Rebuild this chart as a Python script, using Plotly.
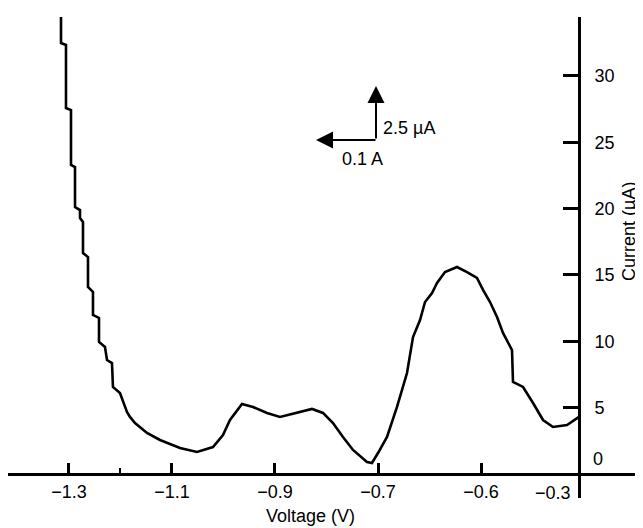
import plotly.graph_objects as go

# ---- data ----
voltage = [-1.3155, -1.3155, -1.3058, -1.3058, -1.2961, -1.2961, -1.2883, -1.2883,
           -1.2786, -1.2786, -1.2728, -1.2728, -1.2631, -1.2631, -1.2534, -1.2534,
           -1.2417, -1.2417, -1.2301, -1.2262, -1.2165, -1.2146, -1.2010, -1.1874,
           -1.1816, -1.1718, -1.1485, -1.1233, -1.0845, -1.0515, -1.0204, -1.0010,
           -0.9874, -0.9738, -0.9641, -0.9427, -0.9155, -0.8903, -0.8573, -0.8282,
           -0.8068, -0.7874, -0.7680, -0.7485, -0.7214, -0.7117, -0.7000, -0.6825,
           -0.6631, -0.6437, -0.6320, -0.6184, -0.6087, -0.5951, -0.5854, -0.5699,
           -0.5466, -0.5272, -0.5078, -0.4961, -0.4825, -0.4689, -0.4573, -0.4398,
           -0.4379, -0.4184, -0.3990, -0.3796, -0.3602, -0.3330, -0.3097]
current = [34.51, 32.48, 32.33, 27.58, 27.43, 23.29, 23.13, 20.12,
           19.89, 19.29, 18.99, 16.65, 16.35, 14.09, 13.72, 11.98,
           11.76, 9.95, 9.57, 8.59, 8.36, 6.56, 6.10, 4.67,
           4.30, 3.84, 3.09, 2.56, 1.96, 1.66, 2.03, 2.94,
           4.07, 4.82, 5.28, 5.05, 4.60, 4.30, 4.60, 4.90,
           4.60, 3.84, 2.79, 1.81, 0.90, 0.83, 1.58, 2.79,
           5.05, 7.61, 10.32, 11.60, 12.96, 13.64, 14.39, 15.22,
           15.60, 15.22, 14.77, 13.87, 12.96, 11.83, 10.63, 9.34,
           6.93, 6.56, 5.35, 4.07, 3.54, 3.69, 4.30]

x_tickvals = [-1.3, -1.1, -0.9, -0.7, -0.5]
x_ticktext = ["\u22121.3", "\u22121.1", "\u22120.9", "\u22120.7", "\u22120.6"]
x_minor_ticks = [-1.2]
y_axis_voltage = -0.31
y_axis_label = "\u22120.3"
y_tickvals = [5, 10, 15, 20, 25, 30]
y_ticktext = ["5", "10", "15", "20", "25", "30"]

x_range = [-1.4184, -0.1913]
y_range = [-1.81, 34.44]

# ---- layout helpers (page has an 8px body margin) ----
OFF = 8
W, H = 643 - OFF, 528 - OFF
ML, MR, MT, MB = 0, 3, 17 - OFF, 30
PW, PH = W - ML - MR, H - MT - MB

def px(xp):  # screen x (reference pixels) -> paper fraction
    return (xp - OFF - ML) / PW

def py(yp):  # screen y (reference pixels) -> paper fraction
    return (H - MB - (yp - OFF)) / PH

FONT = "Liberation Sans, Arial, sans-serif"
FS = 18

fig = go.Figure()
fig.add_trace(go.Scatter(x=voltage, y=current, mode="lines",
                         line=dict(color="black", width=2.6),
                         hoverinfo="skip", showlegend=False))

xpos = (0 - y_range[0]) / (y_range[1] - y_range[0])
ypos = (y_axis_voltage - x_range[0]) / (x_range[1] - x_range[0])

fig.update_layout(
    width=W, height=H,
    margin=dict(l=ML, r=MR, t=MT, b=MB),
    paper_bgcolor="white", plot_bgcolor="white",
    font=dict(family=FONT, size=FS, color="black"),
    xaxis=dict(range=x_range, anchor="free", position=xpos,
               showline=True, linecolor="black", linewidth=3,
               tickmode="array", tickvals=x_tickvals, ticktext=x_ticktext,
               ticks="inside", ticklen=10, tickwidth=3, tickcolor="black",
               minor=dict(tickmode="array", tickvals=x_minor_ticks, ticks="inside",
                          ticklen=5, tickwidth=2, tickcolor="black", showgrid=False),
               showgrid=False, zeroline=False,
               tickfont=dict(family=FONT, size=FS, color="black")),
    yaxis=dict(range=y_range, anchor="free", position=ypos, side="right",
               showline=True, linecolor="black", linewidth=3,
               tickmode="array", tickvals=y_tickvals, ticktext=y_ticktext,
               ticks="inside", ticklen=15, tickwidth=3, tickcolor="black",
               ticklabelstandoff=10,
               showgrid=False, zeroline=False,
               tickfont=dict(family=FONT, size=FS, color="black")),
)

def text_ann(text, x, y, xanchor="center", angle=0):
    return dict(text=text, x=px(x), y=py(y), xref="paper", yref="paper",
                showarrow=False, xanchor=xanchor, yanchor="middle", textangle=angle,
                font=dict(family=FONT, size=FS, color="black"))

ann = [
    text_ann("Voltage (V)", 310, 516),
    text_ann("Current (\u00b5A)", 629, 232, angle=-90),
    text_ann(y_axis_label, 573, 493, xanchor="right"),
    text_ann("0", 598, 459),
    dict(text="", x=px(376), y=py(86), xref="paper", yref="paper",
         showarrow=True, ax=0, ay=54, arrowhead=2, arrowsize=1.7,
         arrowwidth=2, arrowcolor="black"),
    dict(text="", x=px(316), y=py(140), xref="paper", yref="paper",
         showarrow=True, ax=61, ay=0, arrowhead=2, arrowsize=1.7,
         arrowwidth=2, arrowcolor="black"),
    text_ann("2.5 \u00b5A", 381, 128, xanchor="left"),
    text_ann("0.1 A", 362, 159),
]
fig.update_layout(annotations=ann)

fig.write_html("out.html")
